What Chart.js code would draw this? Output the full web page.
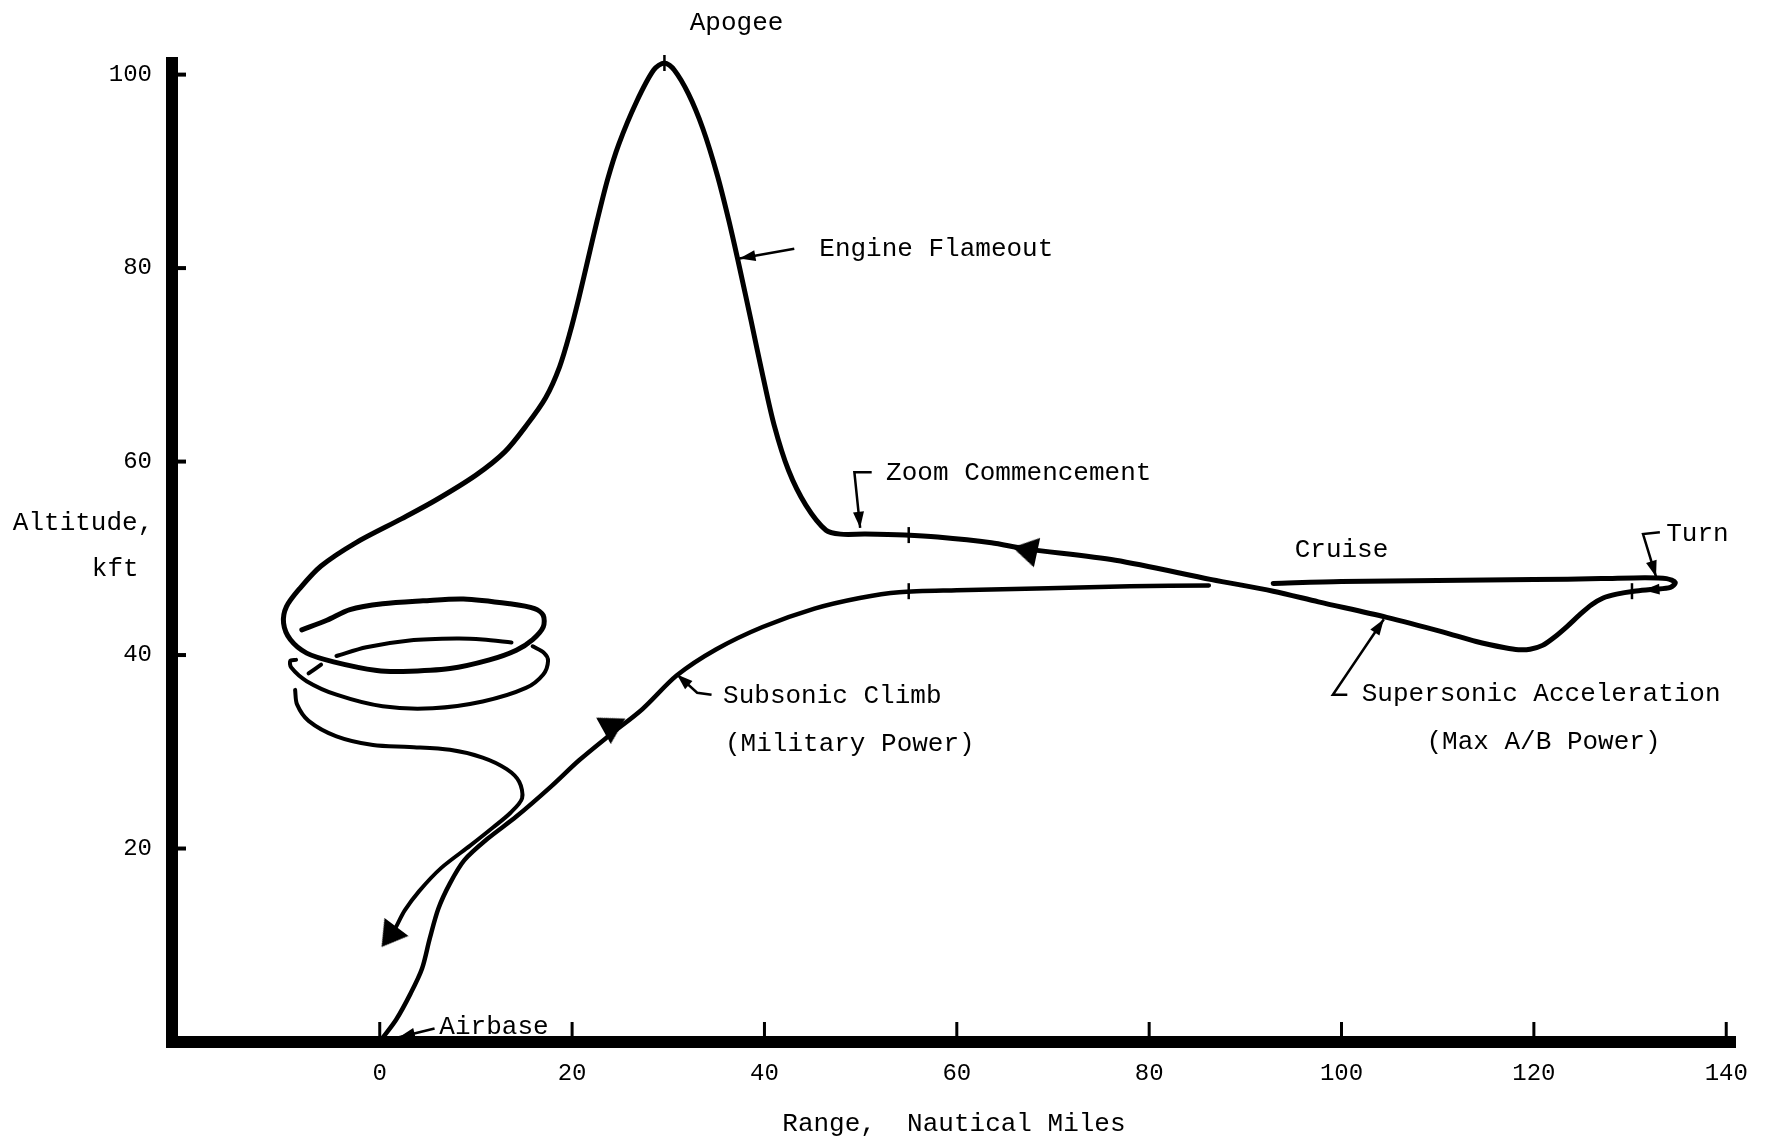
<!DOCTYPE html>
<html>
<head>
<meta charset="utf-8">
<script src="https://cdn.jsdelivr.net/npm/chart.js@4.4.1/dist/chart.umd.min.js"></script>
<style>
  html, body { margin: 0; padding: 0; background: #ffffff; }
  canvas { display: block; }
</style>
</head>
<body>
<canvas id="c" width="1765" height="1139"></canvas>
<script>
// ---------------- data (range in nautical miles, altitude in kft) ----------------
const xTicks = [0, 20, 40, 60, 80, 100, 120, 140];
const yTicks = [20, 40, 60, 80, 100];

// subsonic climb from the airbase, then level flight
const climbX = [0.2, 1.7, 3.2, 4.4, 5.2, 6.1, 7.3, 8.8, 11.2, 14.2, 17.8, 20.7, 24.0, 27.3, 30.9, 35.0, 39.8, 45.2, 49.9, 54.0, 60.0, 69.5, 78.0, 86.2];
const climbY = [0.3, 2.3, 5.0, 7.6, 10.7, 13.8, 16.4, 18.8, 21.0, 23.3, 26.4, 29.1, 31.8, 34.4, 37.9, 40.6, 42.9, 44.8, 45.9, 46.5, 46.7, 46.9, 47.1, 47.2];

// cruise, turn, supersonic acceleration, zoom climb to apogee, descent and first spiral loop
const pathX = [92.9, 100, 110, 120, 127, 131.5, 133.8, 134.7, 134.2, 132.5, 130.4, 128.6, 127.2, 126.0, 124.8, 123.5, 122.2, 120.9, 119.6, 118.4, 117.0, 114.0, 110.5, 104.7, 97.6, 92.9, 86.5, 76.5, 67.0, 63.6, 58.0, 54.6, 50.5, 47.9, 46.4, 44.3, 42.5, 41.0, 39.8, 38.6, 37.4, 36.3, 35.1, 33.6, 32.1, 30.6, 29.6, 28.5, 26.7, 24.85, 23.7, 22.6, 21.65, 20.7, 19.8, 18.7, 17.25, 15.3, 13.0, 10.0, 5.8, 2.3, -2.5, -6.1, -8.3, -9.7, -10.0, -9.3, -7.6, -4.8, -0.3, 2.4, 7.3, 11.4, 14.2, 15.9, 17.0, 17.0, 16.1, 13.5, 8.7, 4.5, 0.3, -3.1, -5.5, -8.1];
const pathY = [47.4, 47.6, 47.7, 47.8, 47.9, 48.0, 47.9, 47.5, 47.0, 46.8, 46.6, 46.3, 45.9, 45.2, 44.2, 43.0, 41.9, 41.0, 40.6, 40.55, 40.75, 41.4, 42.4, 43.9, 45.5, 46.6, 47.8, 49.8, 51.0, 51.6, 52.2, 52.4, 52.5, 52.5, 52.9, 55.5, 59.1, 63.8, 69.0, 74.6, 80.1, 84.9, 89.6, 94.4, 98.0, 100.5, 101.2, 100.5, 97.2, 92.8, 89.2, 84.9, 80.9, 76.9, 73.4, 69.8, 66.6, 63.8, 61.0, 58.6, 56.0, 54.1, 51.6, 49.2, 46.9, 45.0, 43.3, 41.6, 40.2, 39.3, 38.4, 38.3, 38.6, 39.5, 40.5, 41.6, 42.9, 44.1, 44.8, 45.3, 45.8, 45.6, 45.3, 44.7, 43.6, 42.6];

// short hidden-line dash of the spiral
const dashX = [-7.4, -6.1];
const dashY = [38.1, 39.0];

// back of the second loop
const innerX = [-4.5, -1.4, 3.1, 8.0, 10.7, 13.7];
const innerY = [39.9, 40.8, 41.5, 41.7, 41.6, 41.3];

// front of the second loop
const loopX = [15.9, 17.1, 17.5, 17.0, 15.2, 10.7, 5.5, 0.3, -4.5, -7.6, -9.2, -9.3, -8.7];
const loopY = [40.9, 40.2, 39.4, 38.0, 36.6, 35.2, 34.5, 34.7, 35.9, 37.3, 38.7, 39.4, 39.5];

// final glide back to the airbase
const glideX = [-8.8, -8.6, -7.4, -4.5, -0.7, 3.1, 7.3, 10.7, 13.2, 14.5, 14.8, 13.6, 11.8, 9.4, 6.4, 4.1, 2.6, 1.7];
const glideY = [36.4, 34.9, 33.2, 31.6, 30.7, 30.5, 30.2, 29.4, 28.2, 26.9, 25.2, 23.7, 22.2, 20.3, 18.0, 15.6, 13.6, 11.9];

// direction arrows on the path (centre, and a point further along the path)
const arrowX = [24.4, 67.07, 0.97];
const arrowY = [32.8, 50.86, 10.86];
const arrowToX = [27.3, 63.6, -0.5];
const arrowToY = [34.4, 51.6, 8.9];

// event marks crossing the path
const markX = [29.6, 55.0, 55.0, 130.2];
const markY = [101.2, 52.4, 46.6, 46.6];

// ---------------- presentation ----------------
const FONT = '"Liberation Mono", "DejaVu Sans Mono", monospace';

const labels = [
  { text: 'Apogee', x: 37.1, y: 105.3, align: 'center' },
  { text: 'Engine Flameout', x: 45.7, y: 82.0, align: 'left' },
  { text: 'Zoom Commencement', x: 52.65, y: 58.84, align: 'left' },
  { text: 'Cruise', x: 100.0, y: 50.8, align: 'center' },
  { text: 'Turn', x: 133.76, y: 52.5, align: 'left' },
  { text: 'Supersonic Acceleration', x: 102.1, y: 36.0, align: 'left' },
  { text: '(Max A/B Power)', x: 121.0, y: 31.0, align: 'center' },
  { text: 'Subsonic Climb', x: 35.7, y: 35.8, align: 'left' },
  { text: '(Military Power)', x: 35.9, y: 30.8, align: 'left' },
  { text: 'Airbase', x: 6.2, y: 1.5, align: 'left' },
  { text: 'Altitude,', x: -30.85, y: 53.6, align: 'center' },
  { text: 'kft', x: -27.5, y: 48.9, align: 'center' }
];

const leaders = [
  [[43.1, 82.0], [37.4, 81.0]],
  [[51.15, 58.9], [49.35, 58.9], [49.95, 53.15]],
  [[133.1, 52.7], [131.35, 52.5], [132.7, 48.1]],
  [[100.6, 35.9], [99.1, 35.9], [104.4, 43.7]],
  [[34.5, 35.9], [33.0, 36.1], [30.9, 38.0]],
  [[5.7, 1.4], [2.0, 0.5]],
  [[133.6, 46.85], [131.4, 46.7]]
];

const zip = (xs, ys) => xs.map((v, i) => ({ x: v, y: ys[i] }));

// elongated arrowhead image, tip pointing up
const arrowImg = document.createElement('canvas');
arrowImg.width = 30; arrowImg.height = 25;
(function () {
  const g = arrowImg.getContext('2d');
  g.fillStyle = '#000';
  g.beginPath(); g.moveTo(15, 0); g.lineTo(30, 25); g.lineTo(0, 25); g.closePath(); g.fill();
})();

function lineSet(xs, ys, w) {
  return {
    data: zip(xs, ys), showLine: true, borderColor: '#000', borderWidth: w,
    pointRadius: 0, tension: 0.3, fill: false, clip: false,
    borderCapStyle: 'round', borderJoinStyle: 'round'
  };
}

const annotate = {
  id: 'annotate',
  afterDraw(chart) {
    const { ctx, chartArea: a } = chart;
    const xs = chart.scales.x, ys = chart.scales.y;
    const px = v => xs.getPixelForValue(v), py = v => ys.getPixelForValue(v);
    ctx.save();
    ctx.strokeStyle = '#000'; ctx.fillStyle = '#000';
    // inner tick marks
    ctx.lineWidth = 3;
    xTicks.forEach(v => {
      ctx.beginPath(); ctx.moveTo(px(v), a.bottom - 5); ctx.lineTo(px(v), a.bottom - 20); ctx.stroke();
    });
    ctx.lineWidth = 4;
    yTicks.forEach(v => {
      ctx.beginPath(); ctx.moveTo(a.left + 5, py(v)); ctx.lineTo(a.left + 14, py(v)); ctx.stroke();
    });
    // leaders with arrowheads
    ctx.lineWidth = 2.5;
    leaders.forEach(pts => {
      const p = pts.map(q => [px(q[0]), py(q[1])]);
      ctx.beginPath(); ctx.moveTo(p[0][0], p[0][1]);
      for (let i = 1; i < p.length; i++) ctx.lineTo(p[i][0], p[i][1]);
      ctx.stroke();
      const e = p[p.length - 1], s = p[p.length - 2];
      const ang = Math.atan2(e[1] - s[1], e[0] - s[0]);
      const L = 16, W = 5.5;
      ctx.beginPath();
      ctx.moveTo(e[0], e[1]);
      ctx.lineTo(e[0] - L * Math.cos(ang) + W * Math.sin(ang), e[1] - L * Math.sin(ang) - W * Math.cos(ang));
      ctx.lineTo(e[0] - L * Math.cos(ang) - W * Math.sin(ang), e[1] - L * Math.sin(ang) + W * Math.cos(ang));
      ctx.closePath(); ctx.fill();
    });
    // text labels
    ctx.font = '26px ' + FONT;
    ctx.textBaseline = 'middle';
    labels.forEach(l => {
      ctx.textAlign = l.align;
      ctx.fillText(l.text, px(l.x), py(l.y));
    });
    ctx.restore();
  }
};

new Chart(document.getElementById('c'), {
  type: 'scatter',
  data: {
    datasets: [
      lineSet(climbX, climbY, 4.5),
      lineSet(pathX, pathY, 5),
      lineSet(dashX, dashY, 4),
      lineSet(innerX, innerY, 4),
      lineSet(loopX, loopY, 4),
      lineSet(glideX, glideY, 4),
      {
        data: zip(arrowX, arrowY), showLine: false, clip: false,
        pointStyle: arrowImg, pointRadius: 12,
        rotation: (c) => {
          const ch = c.chart, i = c.dataIndex;
          const dx = ch.scales.x.getPixelForValue(arrowToX[i]) - ch.scales.x.getPixelForValue(arrowX[i]);
          const dy = ch.scales.y.getPixelForValue(arrowToY[i]) - ch.scales.y.getPixelForValue(arrowY[i]);
          return Math.atan2(dx, -dy) * 180 / Math.PI;
        }
      },
      {
        data: zip(markX, markY), showLine: false, clip: false,
        pointStyle: 'line', rotation: 90, pointRadius: 8,
        borderColor: '#000', pointBorderWidth: 2.5, borderWidth: 2.5
      }
    ]
  },
  options: {
    responsive: false,
    animation: false,
    devicePixelRatio: 1,
    events: [],
    layout: { padding: { left: 12, top: 63, right: 27, bottom: 0 } },
    plugins: { legend: { display: false }, tooltip: { enabled: false } },
    scales: {
      x: {
        type: 'linear', min: -21.6, max: 141,
        afterFit: s => { s.height = 97; },
        afterBuildTicks: s => { s.ticks = xTicks.map(v => ({ value: v })); },
        grid: { display: true, color: 'rgba(0,0,0,0)', drawTicks: false, lineWidth: 1 },
        border: { display: true, width: 12, color: '#000' },
        ticks: { padding: 17, color: '#000', font: { family: FONT, size: 24 }, maxRotation: 0, autoSkip: false },
        title: {
          display: true, text: 'Range,  Nautical Miles', color: '#000',
          font: { family: FONT, size: 26, lineHeight: 1.0 }, padding: { top: 0, bottom: 2 }
        }
      },
      y: {
        type: 'linear', min: 0, max: 101.2,
        afterFit: s => { s.width = 160; },
        afterBuildTicks: s => { s.ticks = yTicks.map(v => ({ value: v })); },
        grid: { display: true, color: 'rgba(0,0,0,0)', drawTicks: false, lineWidth: 1 },
        border: { display: true, width: 12, color: '#000' },
        ticks: { padding: 20, color: '#000', font: { family: FONT, size: 24 }, autoSkip: false }
      }
    }
  },
  plugins: [annotate]
});
</script>
</body>
</html>
